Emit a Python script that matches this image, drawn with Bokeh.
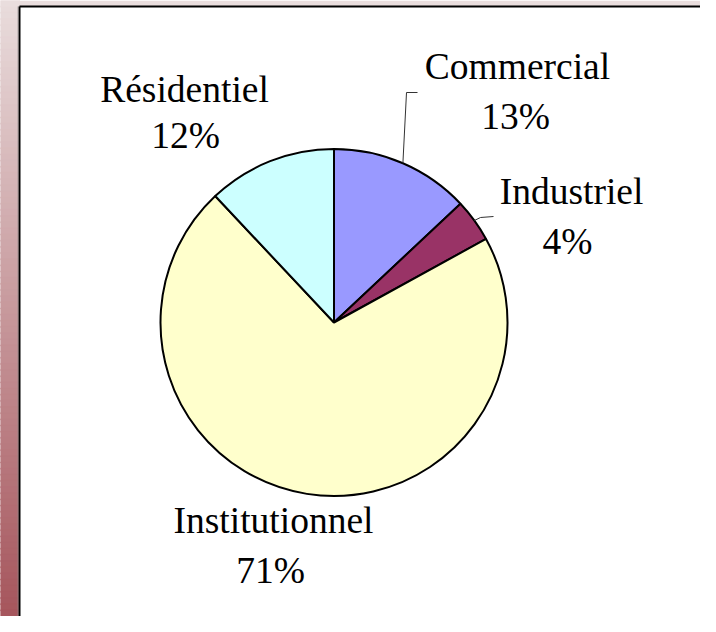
import math
from bokeh.plotting import figure
from bokeh.models import Range1d, ColumnDataSource
from bokeh.core.properties import value
from bokeh.embed import file_html
from bokeh.resources import INLINE

# ---- data ----
categories = ["Commercial", "Industriel", "Institutionnel", "Résidentiel"]
shares = [13, 4, 71, 12]
colors = ["#9999FF", "#993366", "#FFFFCC", "#CCFFFF"]

# ---- layout (screen pixel offsets relative to pie centre) ----
PAGE_H = 632
W, H = 700, 616
CX, CY = 333.5, 322.0      # pie centre (screen px)
R = 173.5                  # pie radius (px)
TXT_SHIFT = -12            # baseline correction for the svg text renderer
name_off = [(183.5, -244), (237.5, -119), (-60.5, 210), (-149.5, -221)]
pct_off = [(181.5, -194), (233.5, -69), (-63.5, 260), (-148.5, -175)]
leader_pts = [[(72.5, -230), (83.5, -230)], [(146.5, -105), (159.5, -106)], None, None]

def sy(y):
    return PAGE_H - y

p = figure(width=W, height=H, x_range=Range1d(0, W),
           y_range=Range1d(PAGE_H - H, PAGE_H),
           output_backend="svg", toolbar_location=None, min_border=0)
p.axis.visible = False
p.grid.visible = False
p.outline_line_color = None
p.background_fill_color = "white"
p.border_fill_color = "white"

# gradient background (left strip and top strip)
top_c = (233, 221, 221)
bot_c = (164, 82, 89)
n = 100
ys0, ys1, cols = [], [], []
for i in range(n):
    y0 = H * i / n
    y1 = H * (i + 1) / n
    t = (y0 + y1) / 2 / PAGE_H
    c = tuple(int(round(top_c[k] + (bot_c[k] - top_c[k]) * t)) for k in range(3))
    ys0.append(sy(y0) + 0.5); ys1.append(sy(y1) - 0.5); cols.append("#%02x%02x%02x" % c)
p.quad(left=0, right=19, top=ys0, bottom=ys1, fill_color=cols, line_color=cols, line_width=1)
p.quad(left=[0], right=[W], top=[sy(0)], bottom=[sy(6)], fill_color="#e9dddd", line_color=None)
# frame border
p.line([19, 19], [sy(6), sy(H)], line_color="black", line_width=2)
p.line([19, W], [sy(6), sy(6)], line_color="black", line_width=2)
p.line([17.5, 17.5], [sy(6), sy(H)], line_color="#888888", line_width=1, line_alpha=0.6)

# pie
starts, ends, mids = [], [], []
cum = 0.0
for s in shares:
    a0 = math.pi / 2 - 2 * math.pi * cum / 100
    a1 = a0 - 2 * math.pi * s / 100
    starts.append(a0); ends.append(a1); mids.append((a0 + a1) / 2)
    cum += s
src = ColumnDataSource(dict(start=starts, end=ends, color=colors))
p.wedge(x=CX, y=sy(CY), radius=R, radius_units="screen", start_angle="start",
        end_angle="end", direction="clock", fill_color="color",
        line_color="black", line_width=2, source=src)

# leader lines
for m, pts in zip(mids, leader_pts):
    if pts is None:
        continue
    xs = [CX + R * math.cos(m)] + [CX + dx for dx, dy in pts]
    ys = [sy(CY) + R * math.sin(m)] + [sy(CY + dy) for dx, dy in pts]
    p.line(xs, ys, line_color="#333333", line_width=1)

# labels
fnt = value("Liberation Serif")
p.text(x=[CX + dx for dx, dy in name_off],
       y=[sy(CY + dy + TXT_SHIFT) for dx, dy in name_off],
       text=categories, text_font=fnt, text_font_size="37.5px",
       text_align="center", text_baseline="alphabetic", text_color="black")
p.text(x=[CX + dx for dx, dy in pct_off],
       y=[sy(CY + dy + TXT_SHIFT) for dx, dy in pct_off],
       text=["%d%%" % s for s in shares], text_font=fnt, text_font_size="37.5px",
       text_align="center", text_baseline="alphabetic", text_color="black")

open("out.html", "w").write(file_html(p, INLINE))
